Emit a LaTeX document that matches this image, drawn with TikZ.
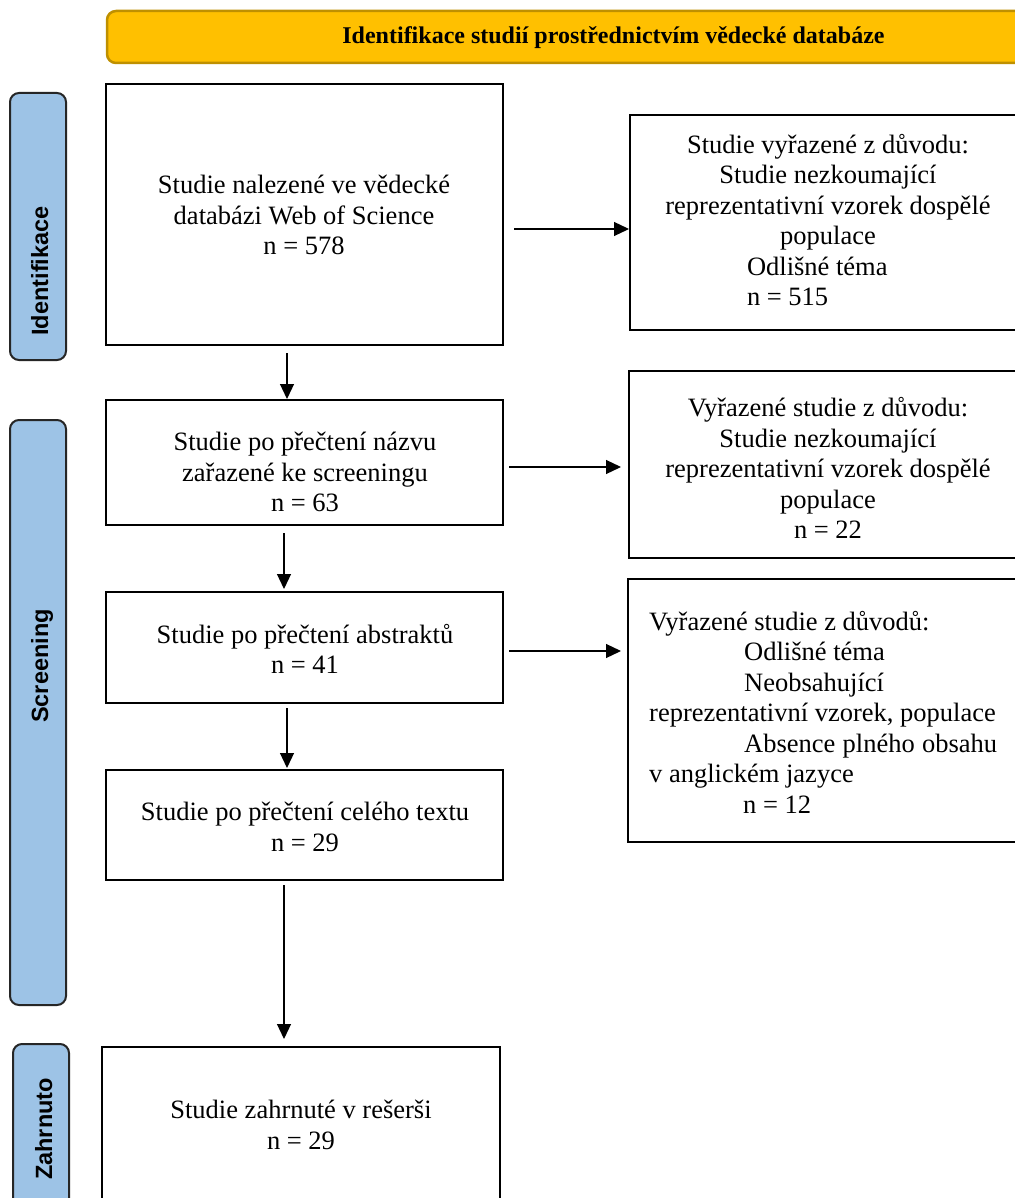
\documentclass[tikz,border=0pt]{standalone}
\usepackage{fontspec}
\setmainfont{Liberation Serif}
\newfontfamily\labfont{Liberation Sans}
\usetikzlibrary{arrows.meta}
\definecolor{bannerfill}{HTML}{FFC000}
\definecolor{bannerline}{HTML}{BF9000}
\definecolor{labfill}{HTML}{9DC3E6}
\begin{document}
\begin{tikzpicture}[x=1pt,y=-1pt,
 mainbox/.style={draw=black, line width=2pt, inner sep=0pt, rectangle},
 phase/.style={draw=black!85, fill=labfill, line width=2pt, rounded corners=9pt, inner sep=0pt, rectangle},
 phasetxt/.style={rotate=90, anchor=base, inner sep=0pt, font=\labfont\bfseries\fontsize{23.5}{28}\selectfont},
 body/.style={inner sep=0pt, font=\fontsize{26.5}{30.5}\selectfont},
 arr/.style={line width=1.2pt, -{Triangle[length=15pt,width=14pt]}}
]
\useasboundingbox (0,0) rectangle (1014,1198);
\fill[white] (0,0) rectangle (1014,1198);

% banner
\node[draw=bannerline, fill=bannerfill, line width=2.5pt, rounded corners=9pt, inner sep=0pt,
      minimum width=923pt, minimum height=52pt] (banner) at (568.5,37) {};
\node[inner sep=0pt, font=\bfseries\fontsize{24}{28}\selectfont] (bannertxt) at (613.5,38)
  {Identifikace studií prostřednictvím vědecké databáze};

% phase labels
\node[phase, minimum width=56pt, minimum height=267pt] (ph1) at (38,226.5) {};
\node[phasetxt] (ph1t) at (48,271) {Identifikace};
\node[phase, minimum width=56pt, minimum height=585pt] (ph2) at (38,712.5) {};
\node[phasetxt] (ph2t) at (48,666) {Screening};
\node[phase, minimum width=56pt, minimum height=171pt] (ph3) at (41,1129.5) {};
\node[phasetxt] (ph3t) at (52,1129) {Zahrnuto};

% main boxes
\node[mainbox, minimum width=397pt, minimum height=261pt] (b1) at (304.5,214.5) {};
\node[body, align=center] (t1) at (304,215) {Studie nalezené ve vědecké\\databázi Web of Science\\n = 578};
\node[mainbox, minimum width=397pt, minimum height=125pt] (b2) at (304.5,462.5) {};
\node[body, align=center] (t2) at (305,472) {Studie po přečtení názvu\\zařazené ke screeningu\\n = 63};
\node[mainbox, minimum width=397pt, minimum height=111pt] (b3) at (304.5,647.5) {};
\node[body, align=center] (t3) at (305,649) {Studie po přečtení abstraktů\\n = 41};
\node[mainbox, minimum width=397pt, minimum height=110pt] (b4) at (304.5,825) {};
\node[body, align=center] (t4) at (305,827) {Studie po přečtení celého textu\\n = 29};
\node[mainbox, minimum width=398pt, minimum height=168pt] (b5) at (301,1131) {};
\node[body, align=center] (t5) at (301,1125) {Studie zahrnuté v rešerši\\n = 29};

% right boxes
\node[mainbox, minimum width=400pt, minimum height=215pt] (r1) at (830,222.5) {};
\node[body, align=center] (rt1) at (828,220) {Studie vyřazené z důvodu:\\Studie nezkoumající\\reprezentativní vzorek dospělé\\populace\\\makebox[162pt][l]{Odlišné téma}\\\makebox[162pt][l]{n = 515}};
\node[mainbox, minimum width=401pt, minimum height=187pt] (r2) at (829.5,464.5) {};
\node[body, align=center] (rt2) at (828,468) {Vyřazené studie z důvodu:\\Studie nezkoumající\\reprezentativní vzorek dospělé\\populace\\n = 22};
\node[mainbox, minimum width=402pt, minimum height=263pt] (r3) at (829,710.5) {};
\node[body, align=left, anchor=west] (rt3) at (649,712) {Vyřazené studie z důvodů:\\\hspace*{95pt}Odlišné téma\\\hspace*{95pt}Neobsahující\\reprezentativní vzorek, populace\\\hspace*{95pt}\makebox[253pt][s]{Absence plného obsahu}\\v anglickém jazyce\\\hspace*{94pt}n = 12};

% connectors
\coordinate (a1) at ([xshift=10pt,yshift=-14.5pt]b1.east);
\draw[arr] (a1) -- (a1 -| r1.west);
\coordinate (a2) at ([xshift=-17.5pt,yshift=-7pt]b1.south);
\draw[arr] (a2) -- (a2 |- b2.north);
\coordinate (a3) at ([xshift=5pt,yshift=-4.5pt]b2.east);
\draw[arr, shorten >=7pt] (a3) -- (a3 -| r2.west);
\coordinate (a4) at ([xshift=-20.5pt,yshift=-7pt]b2.south);
\draw[arr, shorten >=2pt] (a4) -- (a4 |- b3.north);
\coordinate (a5) at ([xshift=5pt,yshift=-3.5pt]b3.east);
\draw[arr, shorten >=6pt] (a5) -- (a5 -| r3.west);
\coordinate (a6) at ([xshift=-17.5pt,yshift=-4pt]b3.south);
\draw[arr, shorten >=1pt] (a6) -- (a6 |- b4.north);
\coordinate (a7) at ([xshift=-20.5pt,yshift=-4pt]b4.south);
\draw[arr, shorten >=7pt] (a7) -- (a7 |- b5.north);
\end{tikzpicture}
\end{document}
